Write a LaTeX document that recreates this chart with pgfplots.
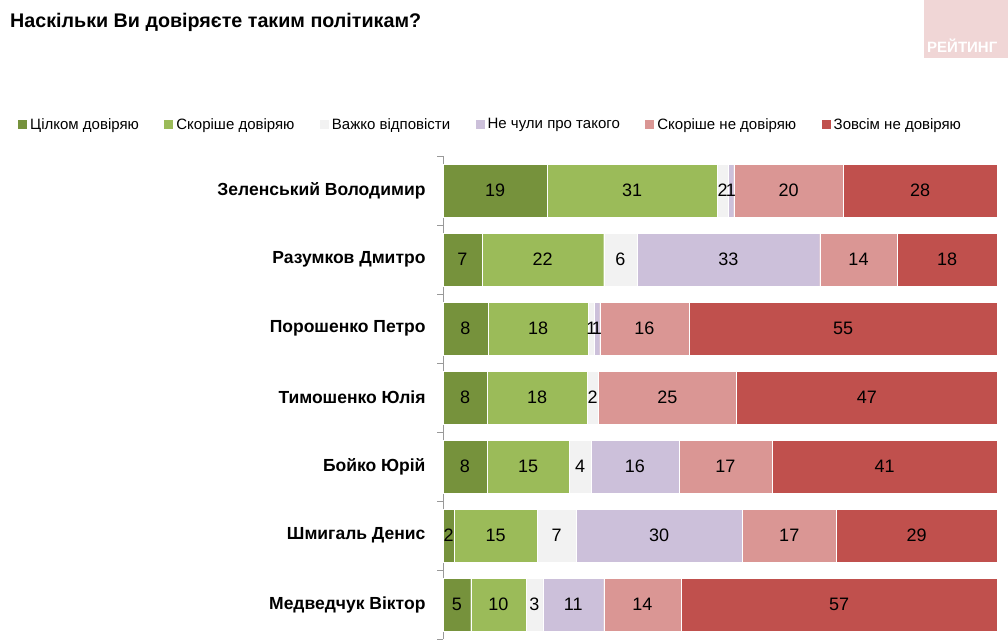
\documentclass[border=0pt]{standalone}
\usepackage{fontspec}
\setmainfont{Liberation Sans}
\usepackage{pgfplots}
\usepackage{pgfplotstable}
\pgfplotsset{compat=1.18}
\definecolor{cA}{RGB}{118,146,60}
\definecolor{cB}{RGB}{155,187,89}
\definecolor{cC}{RGB}{242,242,242}
\definecolor{cD}{RGB}{204,192,218}
\definecolor{cE}{RGB}{218,150,148}
\definecolor{cF}{RGB}{192,80,77}
\definecolor{wm}{RGB}{240,214,214}
\pgfplotstableread{
a  b  c  d  e  f  tot
19 31 2  1  20 28 101
7  22 6  33 14 18 100
8  18 1  1  16 55 99
8  18 2  0  25 47 100
8  15 4  16 17 41 101
2  15 7  30 17 29 100
5  10 3  11 14 57 100
}\data
\begin{document}
\begin{tikzpicture}
\path[use as bounding box] (0pt,0pt) rectangle (1008pt,640pt);
\node[anchor=base west, font=\bfseries\fontsize{19.7}{24}\selectfont, inner sep=0] at (10pt,612pt) {Наскільки Ви довіряєте таким політикам?};
\fill[wm] (924pt,582pt) rectangle (1008pt,640pt);
\node[anchor=base west, font=\bfseries\fontsize{15}{18}\selectfont, text=white, inner sep=0] at (927pt,587pt) {РЕЙТИНГ};
\begin{axis}[
  at={(443pt,1pt)}, anchor=south west,
  scale only axis, width=554pt, height=483pt,
  xbar stacked, bar width=53pt,
  xmin=0, xmax=100, ymin=-0.5, ymax=6.5, y dir=reverse,
  axis x line=none, axis y line*=left,
  y axis line style={draw=gray!80, line width=0.8pt},
  ytick={0,...,6},
  yticklabels={Зеленський Володимир, Разумков Дмитро, Порошенко Петро, Тимошенко Юлія, Бойко Юрій, Шмигаль Денис, Медведчук Віктор},
  yticklabel style={font=\bfseries\fontsize{17.5}{20}\selectfont, xshift=-14pt},
  minor ytick={-0.5,0.5,...,6.5},
  major tick length=0pt, minor tick length=6pt, tick align=outside,
  minor tick style={draw=gray!80, line width=0.8pt},
  point meta=explicit symbolic,
  nodes near coords={\ifnum\pgfplotspointmeta=0 \else\pgfplotspointmeta\fi},
  every node near coord/.append style={anchor=center, font=\fontsize{18}{20}\selectfont, text=black},
  legend columns=6,
  legend style={draw=none, fill=none, at={(-0.7671,1.0652)}, anchor=west, inner xsep=0pt, font=\fontsize{15}{18}\selectfont,
    /tikz/every even column/.append style={column sep=23.5pt},
    /tikz/every odd column/.append style={column sep=1pt}},
  legend image code/.code={\fill[#1, draw=none] (0pt,-4.5pt) rectangle (9pt,4.5pt);},
  clip=false,
]
\addplot[fill=cA, draw=white, line width=0.3pt] table[y expr=\coordindex, x expr=\thisrow{a}*100/\thisrow{tot}, meta=a]{\data};
\addplot[fill=cB, draw=white, line width=0.3pt] table[y expr=\coordindex, x expr=\thisrow{b}*100/\thisrow{tot}, meta=b]{\data};
\addplot[fill=cC, draw=white, line width=0.3pt] table[y expr=\coordindex, x expr=\thisrow{c}*100/\thisrow{tot}, meta=c]{\data};
\addplot[fill=cD, draw=white, line width=0.3pt] table[y expr=\coordindex, x expr=\thisrow{d}*100/\thisrow{tot}, meta=d]{\data};
\addplot[fill=cE, draw=white, line width=0.3pt] table[y expr=\coordindex, x expr=\thisrow{e}*100/\thisrow{tot}, meta=e]{\data};
\addplot[fill=cF, draw=white, line width=0.3pt] table[y expr=\coordindex, x expr=\thisrow{f}*100/\thisrow{tot}, meta=f]{\data};
\legend{Цілком довіряю, Скоріше довіряю, Важко відповісти, Не чули про такого, Скоріше не довіряю, Зовсім не довіряю}
\end{axis}
\end{tikzpicture}
\end{document}
